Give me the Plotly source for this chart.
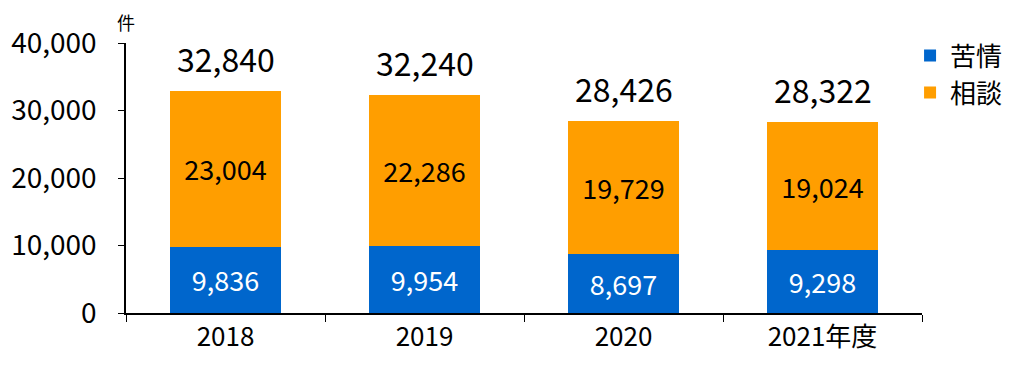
import plotly.graph_objects as go

years = ["2018", "2019", "2020", "2021年度"]
kujo = [9836, 9954, 8697, 9298]
sodan = [23004, 22286, 19729, 19024]
totals = [32840, 32240, 28426, 28322]
yticks = [0, 10000, 20000, 30000, 40000]
ytick_text = ["0", "10,000", "20,000", "30,000", "40,000"]

FONT = "Noto Sans CJK JP"
BLUE = "#0066CC"
ORANGE = "#FF9E00"

fig = go.Figure()
fig.add_trace(go.Bar(
    x=years, y=kujo, name="苦情", marker=dict(color=BLUE, line=dict(width=0)),
    text=[f"{v:,}" for v in kujo], textposition="inside", insidetextanchor="middle",
    textfont=dict(color="white", size=27, family=FONT), width=0.56,
))
fig.add_trace(go.Bar(
    x=years, y=sodan, name="相談", marker=dict(color=ORANGE, line=dict(width=0)),
    text=[f"{v:,}" for v in sodan], textposition="inside", insidetextanchor="middle",
    textfont=dict(color="black", size=27, family=FONT), width=0.56,
))
for i, t in enumerate(totals):
    fig.add_annotation(x=i, y=t, text=f"{t:,}", showarrow=False, yanchor="bottom",
                       yshift=8, font=dict(size=32, color="black", family=FONT))
fig.add_annotation(x=0, xref="paper", y=1, yref="paper", text="件", showarrow=False,
                   xanchor="center", yanchor="bottom", yshift=6, xshift=0,
                   font=dict(size=18, color="black", family=FONT))

fig.update_layout(
    barmode="stack", width=1024, height=371,
    margin=dict(l=118, r=110, t=35, b=66, autoexpand=False),
    plot_bgcolor="white", paper_bgcolor="white",
    font=dict(family=FONT, color="black"),
    uniformtext=dict(mode=False),
    legend=dict(x=0.985, xanchor="left", y=1.04, yanchor="top", traceorder="normal",
                font=dict(size=26, family=FONT), itemwidth=30, bgcolor="rgba(0,0,0,0)",
                tracegroupgap=0),
    showlegend=True,
)
fig.update_xaxes(type="category", range=[-0.5, 3.5], showline=True, linecolor="black",
                 linewidth=1.5, ticks="outside", tickson="boundaries", ticklen=7,
                 tickcolor="black", tickfont=dict(size=26, family=FONT), showgrid=False,
                 tickangle=0, automargin=False)
fig.update_yaxes(range=[0, 40000], tickvals=yticks, ticktext=ytick_text, showline=True,
                 linecolor="black", linewidth=1.5, ticks="outside", ticklen=6,
                 tickcolor="black", tickfont=dict(size=28, family=FONT), showgrid=False,
                 zeroline=False, ticklabelstandoff=16, automargin=False)
fig.write_html("out.html")
